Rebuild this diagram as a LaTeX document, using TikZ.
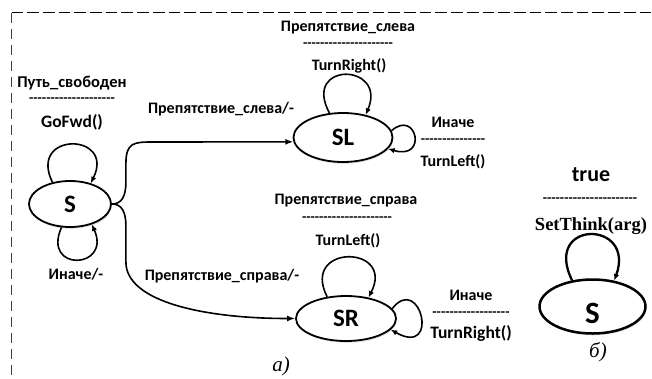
\documentclass[tikz,border=0pt]{standalone}
\usepackage{fontspec}
\setmainfont{Liberation Serif}
\newfontfamily\labelfont{Carlito}
\usetikzlibrary{arrows.meta,shapes.geometric,shadows}

% a row of separate hyphens (no dash ligatures)
\newcommand\dashrow[1]{\foreach \k in {1,...,#1}{-}}

\tikzset{
  state/.style={ellipse, draw, line width=1.8pt, inner sep=0pt, fill=white,
    drop shadow={shadow xshift=0.8pt, shadow yshift=-1.8pt, opacity=0.25},
    font=\labelfont\bfseries\fontsize{25}{25}\selectfont},
  lbl/.style={inner sep=0pt, font=\labelfont\bfseries\fontsize{16}{18}\selectfont},
  biglbl/.style={lbl, font=\labelfont\bfseries\fontsize{17.5}{19}\selectfont},
  dashlbl/.style={inner sep=0pt, font=\labelfont\bfseries\fontsize{14}{16}\selectfont},
  edge/.style={line width=1.6pt, -{Latex[length=8pt,width=6pt]}},
  selfloop/.style={line width=1.6pt, -{Latex[length=6.5pt,width=5.5pt]}},
  caption/.style={inner sep=0pt, font=\itshape\fontsize{21}{22}\selectfont},
  framedash/.style={line width=1.5pt, dash pattern=on 11.7pt off 4pt},
}

\begin{document}
\begin{tikzpicture}[x=1pt,y=-1pt]
\useasboundingbox (0,0) rectangle (652,378);

% frame
\draw[framedash, black!75, dash pattern=on 10.7pt off 5.3pt] (11.5,12.5) -- (11.5,378);
\draw[framedash] (11.5,12.5) -- (652,12.5);

% states of diagram (a)
\node[state, minimum width=82pt, minimum height=46pt] (S) at (70,204) {S};
\node[state, minimum width=99pt, minimum height=49pt] (SL) at (343,137.5) {SL};
\node[state, minimum width=100pt, minimum height=45pt] (SR) at (346,318.5) {SR};

% labels near S
\node[lbl, font=\labelfont\bfseries\fontsize{16.5}{18}\selectfont] (tS1) at (72,83) {Путь\_свободен};
\node[dashlbl] (tS2) at (72,100) {\dashrow{20}};
\node[biglbl] (tS3) at (72,122) {GoFwd()};
\node[lbl] (tS4) at (76,274) {Иначе/-};

% labels near SL
\node[lbl] (tL1) at (348,28) {Препятствие\_слева};
\node[dashlbl] (tL2) at (348,45) {\dashrow{21}};
\node[lbl] (tL3) at (349,66) {TurnRight()};
\node[lbl] (tL4) at (453,122) {Иначе};
\node[dashlbl] (tL5) at (453,141) {\dashrow{15}};
\node[lbl] (tL6) at (453,162) {TurnLeft()};

% labels near SR
\node[lbl] (tR1) at (346,201) {Препятствие\_справа};
\node[dashlbl] (tR2) at (347,219) {\dashrow{21}};
\node[lbl] (tR3) at (348,241) {TurnLeft()};
\node[lbl] (tR4) at (471,295) {Иначе};
\node[dashlbl] (tR5) at (471,314) {\dashrow{18}};
\node[biglbl] (tR6) at (471,333) {TurnRight()};

% transition labels
\node[lbl] (eL) at (221,109) {Препятствие\_слева/-};
\node[lbl] (eR) at (222,276) {Препятствие\_справа/-};

% self loops of S
\draw[selfloop] (S.129) .. controls +(-25,-51) and +(25,-51) .. (S.45);
\draw[selfloop] (S.250) .. controls +(-20,45) and +(20,45) .. (S.317);

% self loops of SL
\draw[selfloop] (SL.119) .. controls +(-28,-52) and +(22,-52) .. (SL.45);
\draw[selfloop] (SL.8) .. controls +(25,-22) and +(40,12) .. (SL.-14);

% self loops of SR
\draw[selfloop] (SR.131) .. controls +(-27,-53) and +(27,-53) .. (SR.43);
\draw[selfloop] (SR.12) .. controls +(28,-36) and +(50,28) .. (SR.-14);

% transitions from S
\draw[edge] (S.east) .. controls +(10,0) and +(0,14) .. ++(14,-22)
  -- ++(0,-18) .. controls +(0,-22) and +(-20,0) .. ++(28,-22) -- (SL.185);
\draw[edge] (S.east) .. controls +(10,0) and +(0,-14) .. ++(14,22)
  -- ++(0,36) .. controls +(0,40) and +(-90,0) .. (SR.west);

\node[caption] (capA) at (281,366) {а)};

% diagram (b)
\node[state, line width=2.5pt, minimum width=106pt, minimum height=54pt,
  text height=33pt, text depth=0pt,
  font=\labelfont\bfseries\fontsize{31}{31}\selectfont] (T) at (592.5,306.5) {S};
\draw[selfloop, line width=2.3pt] (T.128) .. controls +(-30,-61) and +(22,-61) .. (T.50);
\node[lbl, font=\labelfont\bfseries\fontsize{22}{24}\selectfont] (tT1) at (591,175) {true};
\node[dashlbl] (tT2) at (590,200) {\dashrow{22}};
\node[inner sep=0pt, font=\bfseries\fontsize{18.5}{20}\selectfont] (tT3) at (591,226) {SetThink(arg)};
\node[caption] (capB) at (598,352) {б)};
\end{tikzpicture}
\end{document}
